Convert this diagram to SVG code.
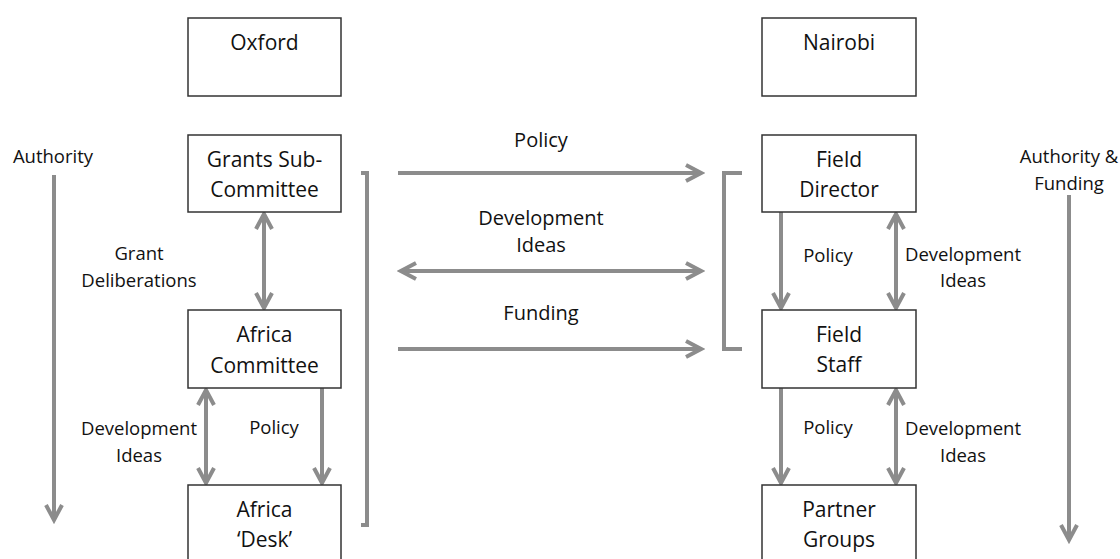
<svg xmlns="http://www.w3.org/2000/svg" width="1120" height="559" viewBox="0 0 1120 559">
<style>
.box{fill:#fff;stroke:#333;stroke-width:1.5}
.t{font-family:"Open Sans","Noto Sans",sans-serif;fill:#111;text-anchor:middle}
.bt{font-size:21px}
.ml{font-size:20px}
.sl{font-size:18.5px}
.c{fill:none;stroke:#8c8c8c;stroke-width:4}
</style>
<defs>
<marker id="ah" markerUnits="userSpaceOnUse" viewBox="-20 -10 24 20" refX="0" refY="0" markerWidth="24" markerHeight="20" orient="auto-start-reverse">
<path d="M-15,-8 L0,0 L-15,8" fill="none" stroke="#8c8c8c" stroke-width="4" stroke-linejoin="miter"/>
</marker>
</defs>
<rect width="1120" height="559" fill="#fff"/>
<g id="connectors">
<line class="c" x1="54" y1="175" x2="54" y2="520" marker-end="url(#ah)"/>
<line class="c" x1="264" y1="214" x2="264" y2="308" marker-start="url(#ah)" marker-end="url(#ah)"/>
<polyline class="c" points="361,173 367,173 367,525 361,525"/>
<line class="c" x1="398" y1="173" x2="701" y2="173" marker-end="url(#ah)"/>
<line class="c" x1="401" y1="271" x2="701" y2="271" marker-start="url(#ah)" marker-end="url(#ah)"/>
<line class="c" x1="398" y1="349" x2="701" y2="349" marker-end="url(#ah)"/>
<polyline class="c" points="742,173 724,173 724,349 742,349"/>
<line class="c" x1="781" y1="212" x2="781" y2="308" marker-end="url(#ah)"/>
<line class="c" x1="896" y1="214" x2="896" y2="308" marker-start="url(#ah)" marker-end="url(#ah)"/>
<line class="c" x1="781" y1="388" x2="781" y2="483" marker-end="url(#ah)"/>
<line class="c" x1="896" y1="390" x2="896" y2="483" marker-start="url(#ah)" marker-end="url(#ah)"/>
<line class="c" x1="206" y1="390" x2="206" y2="483" marker-start="url(#ah)" marker-end="url(#ah)"/>
<line class="c" x1="322" y1="388" x2="322" y2="483" marker-end="url(#ah)"/>
<line class="c" x1="1069" y1="195" x2="1069" y2="540" marker-end="url(#ah)"/>
</g>
<g id="labels">
<text class="t sl" x="53" y="163">Authority</text>
<text class="t sl" x="139" y="260">Grant</text>
<text class="t sl" x="139" y="287">Deliberations</text>
<text class="t sl" x="139" y="435">Development</text>
<text class="t sl" x="139" y="462">Ideas</text>
<text class="t sl" x="274" y="434">Policy</text>
<text class="t ml" x="541" y="147">Policy</text>
<text class="t ml" x="541" y="225">Development</text>
<text class="t ml" x="541" y="252">Ideas</text>
<text class="t ml" x="541" y="320">Funding</text>
<text class="t sl" x="828" y="262">Policy</text>
<text class="t sl" x="963" y="261">Development</text>
<text class="t sl" x="963" y="287">Ideas</text>
<text class="t sl" x="828" y="434">Policy</text>
<text class="t sl" x="963" y="435">Development</text>
<text class="t sl" x="963" y="462">Ideas</text>
<text class="t sl" x="1069" y="163">Authority &amp;</text>
<text class="t sl" x="1069" y="190">Funding</text>
</g>
<g id="oxford"><rect class="box" x="188" y="18" width="153" height="78"/><text class="t bt" x="264.5" y="50">Oxford</text></g>
<g id="grants"><rect class="box" x="188" y="135" width="153" height="77"/><text class="t bt" x="264.5" y="167">Grants Sub-</text><text class="t bt" x="264.5" y="197">Committee</text></g>
<g id="africa-committee"><rect class="box" x="188" y="310" width="153" height="78"/><text class="t bt" x="264.5" y="342">Africa</text><text class="t bt" x="264.5" y="373">Committee</text></g>
<g id="africa-desk"><rect class="box" x="188" y="485" width="153" height="80"/><text class="t bt" x="264.5" y="517">Africa</text><text class="t bt" x="264.5" y="547">‘Desk’</text></g>
<g id="nairobi"><rect class="box" x="762" y="18" width="154" height="78"/><text class="t bt" x="839" y="50">Nairobi</text></g>
<g id="field-director"><rect class="box" x="762" y="135" width="154" height="77"/><text class="t bt" x="839" y="167">Field</text><text class="t bt" x="839" y="197">Director</text></g>
<g id="field-staff"><rect class="box" x="762" y="310" width="154" height="78"/><text class="t bt" x="839" y="342">Field</text><text class="t bt" x="839" y="372">Staff</text></g>
<g id="partner-groups"><rect class="box" x="762" y="485" width="154" height="80"/><text class="t bt" x="839" y="517">Partner</text><text class="t bt" x="839" y="547">Groups</text></g>
</svg>
